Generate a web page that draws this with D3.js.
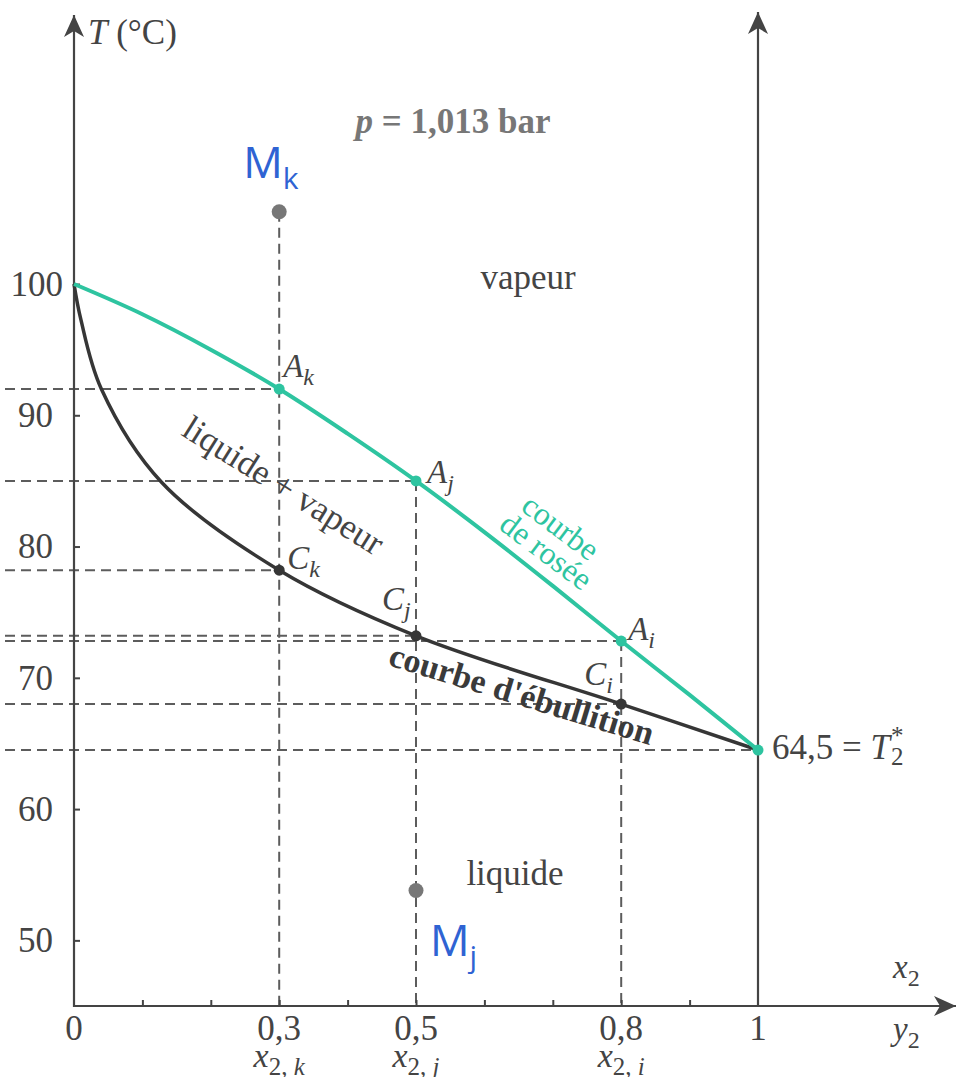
<!DOCTYPE html>
<html>
<head>
<meta charset="utf-8">
<script src="https://cdn.jsdelivr.net/npm/d3@7"></script>
<style>
  body { margin: 0; background: #fff; }
  svg { display: block; }
</style>
</head>
<body>
<svg id="chart" width="964" height="1077"></svg>
<script>
// isobaric diagram, p = 1,013 bar : x2 (mole fraction) vs T (°C)
const boilX = [0, 0.01, 0.04, 0.128, 0.3, 0.5, 0.8, 1];
const boilT = [100, 97.3, 92.0, 84.9, 78.2, 73.2, 68.0, 64.5];
const dewX = [0, 0.1, 0.2, 0.3, 0.4, 0.5, 0.6, 0.7, 0.8, 0.9, 1];
const dewT = [100, 97.7, 95.0, 92.0, 88.6, 85.0, 81.1, 77.0, 72.8, 68.7, 64.5];

// tie points A (dew) and C (boiling) at the three compositions
const tieX = [0.3, 0.5, 0.8];
const tieSub = ['k', 'j', 'i'];
const dewAt = [92.0, 85.0, 72.8];
const boilAt = [78.2, 73.2, 68.0];
const T2 = 64.5;

// system points M
const mX = [0.3, 0.5];
const mT = [105.5, 53.8];
const mSub = ['k', 'j'];

const yTicks = [50, 60, 70, 80, 90, 100];
const xTicks = [0.1, 0.2, 0.3, 0.4, 0.5, 0.6, 0.7, 0.8, 0.9];
const xLabels = [0, 0.3, 0.5, 0.8, 1];

const serif = "'Liberation Serif', 'Times New Roman', serif";
const sans = "'Open Sans', 'Noto Sans', sans-serif";
const ink = '#444';
const green = '#2ec4a0';
const curveInk = '#363636';
const dashInk = '#5c5c5c';
const blue = '#2f63d3';

const svg = d3.select('#chart');
const x = d3.scaleLinear().domain([0, 1]).range([74, 758]);
const y = d3.scaleLinear().domain([45, 100]).range([1006, 284]);

const defs = svg.append('defs');
defs.append('marker')
  .attr('id', 'arrow')
  .attr('viewBox', '-23 -11 25 22')
  .attr('refX', 0).attr('refY', 0)
  .attr('markerWidth', 25).attr('markerHeight', 22)
  .attr('markerUnits', 'userSpaceOnUse')
  .attr('orient', 'auto')
  .append('path')
  .attr('d', 'M0,0 L-22,-10 L-16,0 L-22,10 Z')
  .attr('fill', ink);

// dashed construction lines
const dashes = svg.append('g')
  .attr('stroke', dashInk)
  .attr('stroke-width', 2)
  .attr('stroke-dasharray', '10,6')
  .attr('fill', 'none');

tieX.forEach((v, i) => {
  dashes.append('line').attr('x1', 5).attr('x2', x(v)).attr('y1', y(dewAt[i])).attr('y2', y(dewAt[i]));
  dashes.append('line').attr('x1', 5).attr('x2', x(v)).attr('y1', y(boilAt[i])).attr('y2', y(boilAt[i]));
  const top = i === 0 ? mT[0] : dewAt[i];
  dashes.append('line').attr('x1', x(v)).attr('x2', x(v)).attr('y1', y(top)).attr('y2', y(45));
});
dashes.append('line').attr('x1', 5).attr('x2', x(1)).attr('y1', y(T2)).attr('y2', y(T2));

// axes
const axes = svg.append('g').attr('stroke', ink).attr('stroke-width', 2.2);
axes.append('line').attr('x1', x(0)).attr('x2', x(0)).attr('y1', y(45) + 1).attr('y2', 15).attr('marker-end', 'url(#arrow)');
axes.append('line').attr('x1', x(0) - 1).attr('x2', 956).attr('y1', y(45)).attr('y2', y(45)).attr('marker-end', 'url(#arrow)');
axes.append('line').attr('x1', x(1)).attr('x2', x(1)).attr('y1', y(45)).attr('y2', 12).attr('marker-end', 'url(#arrow)');

const yAxis = svg.append('g')
  .attr('transform', `translate(${x(0)},0)`)
  .call(d3.axisLeft(y).tickValues(yTicks).tickSize(-6).tickPadding(21).tickFormat(d => d));
yAxis.select('.domain').remove();
yAxis.selectAll('line').attr('stroke', ink).attr('stroke-width', 2);
yAxis.selectAll('text')
  .attr('font-family', serif).attr('font-size', 35).attr('fill', ink)
  .filter(d => d === 100).attr('x', -11);

const xAxis = svg.append('g')
  .attr('transform', `translate(0,${y(45)})`)
  .call(d3.axisBottom(x).tickValues(xTicks).tickSize(-6).tickFormat(''));
xAxis.select('.domain').remove();
xAxis.selectAll('line').attr('stroke', ink).attr('stroke-width', 2);

svg.append('g').selectAll('text')
  .data(xLabels).join('text')
  .attr('x', d => x(d)).attr('y', 1040)
  .attr('text-anchor', 'middle')
  .attr('font-family', serif).attr('font-size', 35).attr('fill', ink)
  .text(d => String(d).replace('.', ','));

// x2,k  x2,j  x2,i under the ticks
tieX.forEach((v, i) => {
  const t = svg.append('text')
    .attr('x', x(v)).attr('y', 1067)
    .attr('text-anchor', 'middle')
    .attr('font-family', serif).attr('font-size', 34).attr('fill', ink);
  t.append('tspan').attr('font-style', 'italic').text('x');
  t.append('tspan').attr('font-size', 25).attr('dy', 8).text('2, ');
  t.append('tspan').attr('font-size', 25).attr('font-style', 'italic').text(tieSub[i]);
});

// curves
const line = d3.line().x(d => x(d[0])).y(d => y(d[1])).curve(d3.curveCatmullRom.alpha(0.5));
svg.append('path')
  .datum(boilX.map((v, i) => [v, boilT[i]]))
  .attr('d', line)
  .attr('fill', 'none').attr('stroke', curveInk).attr('stroke-width', 3.5);
svg.append('path')
  .datum(dewX.map((v, i) => [v, dewT[i]]))
  .attr('d', line)
  .attr('fill', 'none').attr('stroke', green).attr('stroke-width', 4);

// points on the curves
svg.append('g').selectAll('circle')
  .data(tieX).join('circle')
  .attr('cx', d => x(d)).attr('cy', (d, i) => y(boilAt[i])).attr('r', 5.5)
  .attr('fill', curveInk);
svg.append('g').selectAll('circle')
  .data(tieX.concat([1])).join('circle')
  .attr('cx', d => x(d)).attr('cy', (d, i) => y(i < 3 ? dewAt[i] : T2)).attr('r', 5.5)
  .attr('fill', green);

// point labels A / C with subscript
const subLabel = (letter, sub, px, py) => {
  const t = svg.append('text')
    .attr('x', px).attr('y', py)
    .attr('font-family', serif).attr('font-size', 33).attr('fill', ink)
    .attr('font-style', 'italic');
  t.append('tspan').text(letter);
  t.append('tspan').attr('font-size', 24).attr('dy', 8).text(sub);
};
const aOff = [[4, -12], [11, 2], [7, -1]];
const cOff = [[8, -1], [-34, -26], [-37, -19]];
tieX.forEach((v, i) => {
  subLabel('A', tieSub[i], x(v) + aOff[i][0], y(dewAt[i]) + aOff[i][1]);
  subLabel('C', tieSub[i], x(v) + cOff[i][0], y(boilAt[i]) + cOff[i][1]);
});

// M points
svg.append('g').selectAll('circle')
  .data(mX).join('circle')
  .attr('cx', d => x(d)).attr('cy', (d, i) => y(mT[i])).attr('r', 7.5)
  .attr('fill', '#777');
const mOff = [[-36, -34], [14, 66]];
mX.forEach((v, i) => {
  const t = svg.append('text')
    .attr('x', x(v) + mOff[i][0]).attr('y', y(mT[i]) + mOff[i][1])
    .attr('font-family', sans).attr('font-size', 44).attr('fill', blue);
  t.append('tspan').text('M');
  t.append('tspan').attr('font-size', 30).attr('dy', 11).text(mSub[i]);
});

// T2* label
const t2 = svg.append('text')
  .attr('x', x(1) + 14).attr('y', y(T2) + 9)
  .attr('font-family', serif).attr('font-size', 35).attr('fill', ink);
t2.append('tspan').text('64,5 = ');
t2.append('tspan').attr('font-style', 'italic').text('T');
const t2End = x(1) + 14 + t2.node().getComputedTextLength();
svg.append('text').attr('x', t2End + 1).attr('y', y(T2) + 15)
  .attr('font-family', serif).attr('font-size', 25).attr('fill', ink).text('2');
svg.append('text').attr('x', t2End + 1).attr('y', y(T2) - 6)
  .attr('font-family', serif).attr('font-size', 25).attr('fill', ink).text('*');

// titles and region labels
const title = svg.append('text').attr('x', 88).attr('y', 44)
  .attr('font-family', serif).attr('font-size', 35).attr('fill', ink);
title.append('tspan').attr('font-style', 'italic').text('T');
title.append('tspan').text(' (°C)');

const pText = svg.append('text').attr('x', 453).attr('y', 133)
  .attr('text-anchor', 'middle')
  .attr('font-family', serif).attr('font-size', 35).attr('font-weight', 'bold').attr('fill', '#777');
pText.append('tspan').attr('font-style', 'italic').text('p');
pText.append('tspan').text(' = 1,013 bar');

svg.append('text').attr('x', 528).attr('y', 289).attr('text-anchor', 'middle')
  .attr('font-family', serif).attr('font-size', 35).attr('fill', ink).text('vapeur');
svg.append('text').attr('x', 515).attr('y', 885).attr('text-anchor', 'middle')
  .attr('font-family', serif).attr('font-size', 35).attr('fill', ink).text('liquide');

svg.append('text')
  .attr('transform', 'translate(282,488) rotate(32)')
  .attr('text-anchor', 'middle').attr('dy', '0.25em')
  .attr('font-family', serif).attr('font-size', 35).attr('fill', ink)
  .text('liquide + vapeur');

const rosee = svg.append('g').attr('transform', 'translate(560,528) rotate(37)')
  .attr('font-family', serif).attr('font-size', 32).attr('fill', green)
  .attr('text-anchor', 'middle');
rosee.append('text').attr('dy', '0.3em').text('courbe');
rosee.append('text').attr('x', 3).attr('y', 28).attr('dy', '0.3em').text('de rosée');

svg.append('text')
  .attr('transform', 'translate(521,697) rotate(17)')
  .attr('text-anchor', 'middle').attr('dy', '0.25em')
  .attr('font-family', serif).attr('font-size', 34).attr('font-weight', 'bold').attr('fill', '#3a3a3a')
  .text("courbe d'ébullition");

// axis names at the right
[['x', 978], ['y', 1040]].forEach(([n, py]) => {
  const t = svg.append('text').attr('x', 893).attr('y', py)
    .attr('font-family', serif).attr('font-size', 33).attr('fill', ink);
  t.append('tspan').attr('font-style', 'italic').text(n);
  t.append('tspan').attr('font-size', 24).attr('dy', 8).text('2');
});
</script>
</body>
</html>
